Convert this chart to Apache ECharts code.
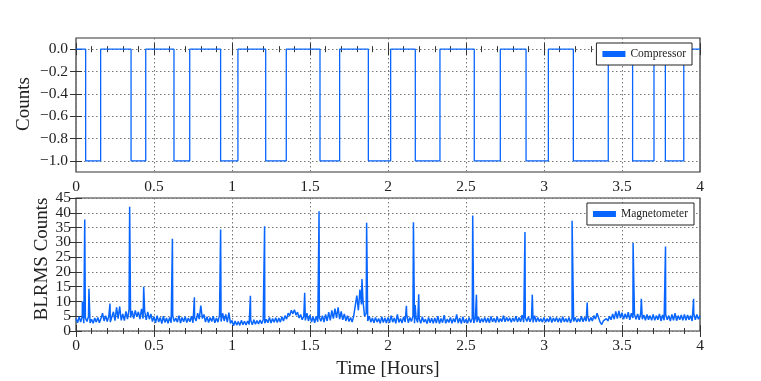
<!DOCTYPE html>
<html><head><meta charset="utf-8">
<script src="https://cdn.jsdelivr.net/npm/echarts@6/dist/echarts.min.js"></script>
<style>html,body{margin:0;padding:0;background:#fff}#c{width:761px;height:381px}</style>
</head><body><div id="c"></div><script>
// Compressor state switch times (hours) and state held from that time
const compTimes  = [0, 0.062, 0.158, 0.353, 0.447, 0.628, 0.729, 0.927, 1.038, 1.216, 1.348, 1.564, 1.690, 1.874, 2.017, 2.175, 2.333, 2.553, 2.720, 2.885, 3.028, 3.188, 3.412, 3.568, 3.705, 3.778, 3.896, 4.0];
const compStates = [0, -1, 0, -1, 0, -1, 0, -1, 0, -1, 0, -1, 0, -1, 0, -1, 0, -1, 0, -1, 0, -1, 0, -1, 0, -1, 0, 0];

// Magnetometer baseline readings, one every 0.01 h from 0 to 4 h
const magStart = 0, magStep = 0.01;
const magBase = [
 4.2,2.8,4.8,3.0,5.0,2.6,4.5,3.2,4.9,2.7,
 4.0,2.6,4.4,3.0,4.6,2.8,4.2,6.0,3.4,5.2,
 3.2,5.0,3.0,4.8,6.5,3.5,8.0,4.2,8.3,3.6,
 5.8,3.5,6.6,4.0,7.2,4.5,6.8,4.2,7.0,4.8,
 6.5,4.0,7.5,4.2,6.8,3.8,6.5,4.0,5.8,3.2,
 4.8,2.8,5.2,3.0,4.6,2.5,5.0,2.9,4.4,2.6,
 4.6,2.8,5.0,3.2,4.4,3.0,5.2,2.7,4.6,3.1,
 4.8,2.9,4.4,3.1,5.0,2.8,4.6,3.4,6.0,4.0,
 8.6,4.2,5.6,3.0,4.8,2.9,4.6,3.2,5.0,2.8,
 4.4,3.0,5.4,3.2,6.0,3.4,5.6,3.0,6.2,2.6,
 3.6,1.8,3.4,2.0,3.2,1.9,3.6,2.1,3.3,2.0,
 3.4,2.2,3.6,2.1,3.8,2.3,3.5,2.4,3.7,2.5,
 3.8,2.6,4.0,2.8,4.6,2.7,4.2,3.0,4.5,2.9,
 4.4,3.0,4.8,3.4,5.2,4.0,6.0,5.2,7.0,5.8,
 7.2,5.4,6.4,4.4,5.6,3.8,5.0,3.6,6.0,3.4,
 5.4,3.0,4.8,2.8,5.0,3.1,4.6,3.3,5.2,3.0,
 5.6,3.4,6.4,3.6,7.0,4.2,7.6,4.4,8.0,4.0,
 6.6,3.8,5.8,3.4,5.2,3.2,4.6,3.0,5.0,4.6,
 12.0,7.0,14.0,9.0,10.0,5.0,6.0,3.4,5.0,3.0,
 4.4,2.8,4.6,3.0,4.2,2.6,4.8,2.9,4.4,2.7,
 4.6,2.8,5.2,3.0,4.4,2.6,5.6,2.9,4.2,2.7,
 4.8,3.0,5.6,2.8,4.6,3.2,5.0,2.6,4.4,2.9,
 4.2,2.6,4.8,3.0,4.0,2.5,4.6,2.8,4.3,2.6,
 4.4,2.7,5.0,2.5,4.2,2.8,5.4,2.6,4.0,2.9,
 4.6,2.6,4.2,3.0,5.6,2.7,4.4,2.5,4.8,2.8,
 4.0,2.6,4.6,2.9,4.2,2.7,4.4,3.0,4.8,2.8,
 4.2,3.0,4.6,2.9,4.4,2.8,4.9,3.1,4.3,2.9,
 4.8,3.0,4.2,3.2,5.2,3.1,4.6,3.3,4.5,3.0,
 4.4,3.2,5.0,3.0,4.6,3.1,5.4,3.0,4.6,3.2,
 4.8,3.1,4.4,2.9,5.2,3.0,4.6,3.2,4.2,3.0,
 4.6,3.0,4.2,3.1,4.8,2.9,4.4,3.2,4.6,3.0,
 4.4,2.9,4.8,3.1,4.2,3.0,4.6,2.8,4.4,3.2,
 4.6,3.0,4.2,3.2,5.0,3.1,4.6,3.3,4.8,3.2,
 4.6,3.4,5.2,4.0,6.0,5.4,3.0,2.2,3.4,2.8,
 4.2,3.4,5.0,3.8,5.8,4.0,6.6,4.2,6.8,4.4,
 6.2,4.0,5.8,4.2,6.4,3.8,6.0,4.4,5.6,4.0,
 5.8,3.8,6.0,4.0,5.4,3.6,5.6,3.8,5.2,3.6,
 5.6,3.6,5.2,3.8,5.8,3.4,5.4,3.6,5.6,3.8,
 5.2,3.4,5.6,3.6,6.0,3.5,5.2,3.8,5.4,3.6,
 5.6,3.6,5.4,3.8,5.2,3.4,6.0,3.8,5.6,4.0,
 5.2
];
// Magnetometer spikes: time (h) and peak value
const spikeTimes  = [0.041, 0.056, 0.083, 0.218, 0.344, 0.434, 0.618, 0.759, 0.927, 1.118, 1.209, 1.466, 1.558, 1.833, 1.863, 2.118, 2.163, 2.174, 2.197, 2.543, 2.567, 2.878, 2.925, 3.180, 3.277, 3.571, 3.624, 3.779, 3.959];
const spikeValues = [10.0, 37.7, 14.3, 9.3, 42.0, 15.0, 31.2, 11.4, 34.3, 11.9, 35.4, 12.9, 40.5, 17.6, 36.6, 8.5, 36.8, 8.8, 12.4, 39.1, 12.3, 33.5, 12.3, 37.3, 9.6, 29.8, 10.9, 28.6, 10.9];

const topYTicks = [-1.0, -0.8, -0.6, -0.4, -0.2, 0.0];
const bottomYTicks = [0, 5, 10, 15, 20, 25, 30, 35, 40, 45];
const bottomYLabelsA = [0, 10, 20, 30, 40];
const bottomYLabelsB = [5, 15, 25, 35, 45];

const BLUE = '#0866ff';
const FONT = "'Liberation Serif', 'DejaVu Serif', serif";

const compData = compTimes.map((t, i) => [t, compStates[i]]);
const magData = magBase.map((v, i) => [magStart + i * magStep, v])
  .concat(spikeTimes.map((t, i) => [t, spikeValues[i]]))
  .sort((a, b) => a[0] - b[0]);

const chart = echarts.init(document.getElementById('c'), null, {renderer: 'canvas'});

const gridStyle = {show: true, borderColor: '#333', borderWidth: 1.2, backgroundColor: '#fff'};
const grids = [
  Object.assign({left: 76, right: 61, top: 38, height: 134}, gridStyle),
  Object.assign({left: 76, right: 61, top: 198, height: 133}, gridStyle)
];
const split = {show: true, lineStyle: {color: '#777', type: [1.5, 2.5], width: 1}};
const tick = {show: true, inside: true, length: 6, lineStyle: {color: '#333', width: 1}};
const minor = {show: true, splitNumber: 5, length: 3, lineStyle: {color: '#333', width: 1}};
const lab = {fontFamily: FONT, fontSize: 15.5, color: '#222', showMinLabel: true, showMaxLabel: true, hideOverlap: false};

function xAx(gi, pos, showLabel) {
  return {
    type: 'value', gridIndex: gi, position: pos, min: 0, max: 4, interval: 0.5,
    axisLine: {show: false}, axisTick: tick, minorTick: minor,
    splitLine: pos === 'bottom' ? split : {show: false},
    axisLabel: Object.assign({show: showLabel, margin: 7}, lab)
  };
}
const option = {
  animation: false,
  backgroundColor: '#fff',
  grid: grids,
  xAxis: [xAx(0, 'bottom', true), xAx(0, 'top', false), xAx(1, 'bottom', true), xAx(1, 'top', false)],
  yAxis: [
    {type: 'value', gridIndex: 0, position: 'left', min: -1.1, max: 0.1,
     axisLine: {show: false},
     axisTick: Object.assign({customValues: topYTicks}, tick),
     splitLine: split,
     axisLabel: Object.assign({customValues: topYTicks, margin: 8,
       formatter: v => (Math.abs(v) < 1e-9 ? '0.0' : '\u2212' + Math.abs(v).toFixed(1))}, lab)},
    {type: 'value', gridIndex: 0, position: 'right', min: -1.1, max: 0.1,
     axisLine: {show: false},
     axisTick: Object.assign({customValues: topYTicks}, tick),
     splitLine: {show: false}, axisLabel: {show: false}},
    {type: 'value', gridIndex: 1, position: 'left', min: 0, max: 45, interval: 5,
     axisLine: {show: false}, axisTick: Object.assign({customValues: bottomYTicks}, tick), splitLine: split,
     axisLabel: Object.assign({customValues: bottomYLabelsA, margin: 5}, lab)},
    {type: 'value', gridIndex: 1, position: 'right', min: 0, max: 45, interval: 5,
     axisLine: {show: false}, axisTick: Object.assign({customValues: bottomYTicks}, tick),
     splitLine: {show: false}, axisLabel: {show: false}},
    {type: 'value', gridIndex: 1, position: 'left', offset: 0, min: 0, max: 45, interval: 5,
     axisLine: {show: false}, axisTick: {show: false}, splitLine: {show: false},
     axisLabel: Object.assign({customValues: bottomYLabelsB, margin: 5}, lab)}
  ],
  legend: [
    {data: ['Compressor'], right: 69, top: 43, orient: 'vertical', icon: 'rect',
     itemWidth: 23, itemHeight: 6, itemGap: 4, padding: [5, 6, 5, 6],
     borderColor: '#222', borderWidth: 1, backgroundColor: '#fff', borderRadius: 0,
     textStyle: {fontFamily: FONT, fontSize: 11.5, color: '#222'}},
    {data: ['Magnetometer'], right: 67, top: 203, orient: 'vertical', icon: 'rect',
     itemWidth: 23, itemHeight: 6, itemGap: 4, padding: [5, 6, 5, 6],
     borderColor: '#222', borderWidth: 1, backgroundColor: '#fff', borderRadius: 0,
     textStyle: {fontFamily: FONT, fontSize: 11.5, color: '#222'}}
  ],
  graphic: [
    {type: 'text', x: 24, y: 104, rotation: Math.PI / 2,
     style: {text: 'Counts', font: '19px ' + FONT, fill: '#222', align: 'center', verticalAlign: 'middle'}},
    {type: 'text', x: 42, y: 259, rotation: Math.PI / 2,
     style: {text: 'BLRMS Counts', font: '19px ' + FONT, fill: '#222', align: 'center', verticalAlign: 'middle'}},
    {type: 'text', x: 388, y: 369,
     style: {text: 'Time [Hours]', font: '19px ' + FONT, fill: '#222', align: 'center', verticalAlign: 'middle'}}
  ],
  series: [
    {name: 'Compressor', type: 'line', xAxisIndex: 0, yAxisIndex: 0, step: 'end',
     data: compData, showSymbol: false, color: BLUE, lineStyle: {width: 1.3, color: BLUE}, z: 3},
    {name: 'Magnetometer', type: 'line', xAxisIndex: 2, yAxisIndex: 2,
     data: magData, showSymbol: false, color: BLUE, lineStyle: {width: 1.5, color: BLUE}, z: 3}
  ]
};
chart.setOption(option);
</script></body></html>
